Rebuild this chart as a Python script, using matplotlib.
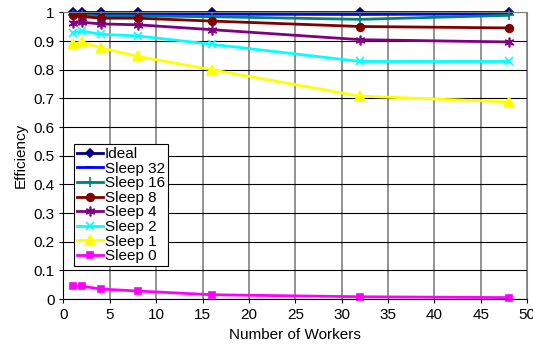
import matplotlib
matplotlib.use("Agg")
import matplotlib.pyplot as plt

plt.rcParams['font.family'] = ['Liberation Sans', 'DejaVu Sans']

workers = [1, 2, 4, 8, 16, 32, 48]
ideal = [1, 1, 1, 1, 1, 1, 1]
sleep32 = [0.995, 0.995, 0.995, 0.995, 0.994, 0.993, 0.995]
sleep16 = [0.99, 0.99, 0.988, 0.988, 0.985, 0.976, 0.99]
sleep8 = [0.99, 0.986, 0.98, 0.98, 0.97, 0.951, 0.946]
sleep4 = [0.964, 0.966, 0.96, 0.957, 0.94, 0.905, 0.897]
sleep2 = [0.929, 0.935, 0.924, 0.918, 0.889, 0.829, 0.829]
sleep1 = [0.889, 0.897, 0.877, 0.847, 0.80, 0.708, 0.688]
sleep0 = [0.045, 0.045, 0.035, 0.028, 0.015, 0.008, 0.005]

series = [
    ("Ideal", ideal, "#000080", "D", 4),
    ("Sleep 32", sleep32, "#0000FF", "_", 6),
    ("Sleep 16", sleep16, "#008080", "+", 7),
    ("Sleep 8", sleep8, "#800000", "o", 5.5),
    ("Sleep 4", sleep4, "#800080", (6, 2, 0), 7),
    ("Sleep 2", sleep2, "#00FFFF", "x", 6),
    ("Sleep 1", sleep1, "#FFFF00", "^", 6.5),
    ("Sleep 0", sleep0, "#FF00FF", "s", 5),
]

fig = plt.figure(figsize=(5.33, 3.56), dpi=100)
ax = fig.add_axes([0.119, 0.160, 0.870, 0.805])

for name, vals, col, mk, ms in series:
    ax.plot(workers, vals, color=col, marker=mk, markersize=ms, linewidth=2,
            markeredgewidth=1.2, label=name, clip_on=False)

ax.set_xlim(0, 50)
ax.set_ylim(0, 1)
ax.set_xticks(range(0, 51, 5))
ax.set_yticks([i / 10 for i in range(11)])
ax.set_yticklabels(["0", "0.1", "0.2", "0.3", "0.4", "0.5", "0.6", "0.7", "0.8", "0.9", "1"])
ax.tick_params(labelsize=11, length=3, width=0.8, colors='black')
ax.xaxis.grid(True, color='#808080', linewidth=1.2)
ax.yaxis.grid(True, color='black', linewidth=0.8)
ax.set_axisbelow(True)
for s in ['top', 'right']:
    ax.spines[s].set_color('#808080')
ax.spines['left'].set_color('black')
ax.spines['bottom'].set_color('black')

ax.set_xlabel("Number of Workers", fontsize=11)
ax.set_ylabel("Efficiency", fontsize=11)

leg = ax.legend(loc='lower left', bbox_to_anchor=(0.022, 0.114), fontsize=11,
                frameon=True, fancybox=False, edgecolor='black', framealpha=1,
                handlelength=1.7, handletextpad=0.15, borderpad=0.2,
                labelspacing=0.04, borderaxespad=0)
leg.get_frame().set_linewidth(0.8)

fig.savefig("out.png", dpi=100)
